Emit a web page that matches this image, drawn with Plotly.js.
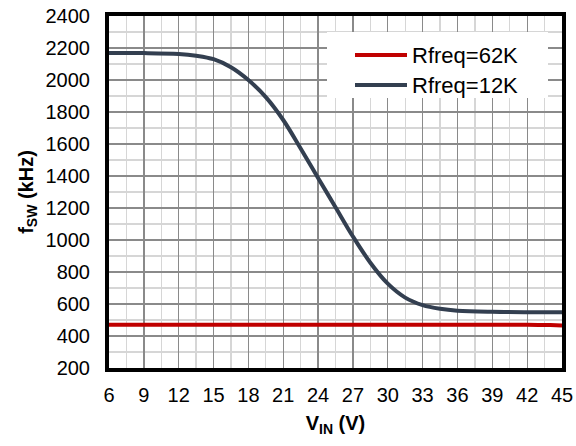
<!DOCTYPE html>
<html>
<head>
<meta charset="utf-8">
<script src="https://cdn.plot.ly/plotly-3.0.1.min.js"></script>
<style>html,body{margin:0;padding:0;background:#fff;}#chart{width:576px;height:446px;}</style>
</head>
<body>
<div id="chart"></div>
<script>
// Data
const seriesNames = ['Rfreq=62K', 'Rfreq=12K'];
const vin12K = [6, 9, 12, 13.5, 15, 16.5, 18, 19.5, 21, 22.5, 24, 25.5, 27, 28.5, 30, 31.5, 33, 34.5, 36, 39, 42, 45];
const fsw12K = [2168, 2168, 2163, 2152, 2130, 2080, 2000, 1893, 1750, 1572, 1388, 1205, 1022, 858, 727, 640, 593, 570, 558, 551, 549, 549];
const vin62K = [6, 9, 12, 15, 18, 21, 24, 27, 30, 33, 36, 39, 42, 44, 45];
const fsw62K = [470, 470, 470, 470, 470, 470, 470, 470, 470, 470, 470, 470, 470, 468, 466];
const xTicks = [6, 9, 12, 15, 18, 21, 24, 27, 30, 33, 36, 39, 42, 45];
const yTicks = [200, 400, 600, 800, 1000, 1200, 1400, 1600, 1800, 2000, 2200, 2400];
const colors = ['#c00000', '#333f50'];

const fam = 'Liberation Sans, Arial, sans-serif';
const font = {family: fam, size: 20, color: '#000'};

const traces = [
  {x: vin62K, y: fsw62K, name: seriesNames[0], mode: 'lines', showlegend: false,
   line: {color: colors[0], width: 4, shape: 'spline', smoothing: 0.6}},
  {x: vin12K, y: fsw12K, name: seriesNames[1], mode: 'lines', showlegend: false,
   line: {color: colors[1], width: 4, shape: 'spline', smoothing: 1}}
];

// legend drawn in paper coordinates (plot area: 453 x 352 px)
const W = 453, H = 352, L = 109, T = 16;
const px = v => (v - L) / W;
const py = v => (T + H - v) / H;
const legRows = [55, 85];
const shapes = [
  {type: 'rect', xref: 'paper', yref: 'paper', x0: px(327), x1: px(548), y0: py(98), y1: py(32),
   fillcolor: '#fff', line: {width: 0}, layer: 'above'}
];
const annotations = [];
seriesNames.forEach((n, i) => {
  shapes.push({type: 'line', xref: 'paper', yref: 'paper', x0: px(355), x1: px(407),
    y0: py(legRows[i]), y1: py(legRows[i]), line: {color: colors[i], width: 4}, layer: 'above'});
  annotations.push({xref: 'paper', yref: 'paper', x: px(410), y: py(legRows[i]), xanchor: 'left', yanchor: 'middle',
    text: n, showarrow: false, font: {family: fam, size: 22, color: '#000'}});
});

const layout = {
  width: 576, height: 446,
  margin: {l: L, r: 576 - L - W, t: T, b: 446 - T - H},
  paper_bgcolor: '#fff', plot_bgcolor: '#fff',
  font: font,
  showlegend: false,
  shapes: shapes,
  annotations: annotations,
  xaxis: {
    range: [6, 45], tickvals: xTicks, ticktext: xTicks.map(String),
    showgrid: true, gridcolor: '#8a8a8a', gridwidth: 1.3,
    minor: {dtick: 1.5, tick0: 6, showgrid: true, gridcolor: '#d6d6d6', gridwidth: 1.3},
    showline: true, linecolor: '#000', linewidth: 4, mirror: true,
    ticks: 'outside', ticklen: 6, tickcolor: 'rgba(0,0,0,0)',
    zeroline: false, tickfont: font,
    title: {text: '<b>V<sub>IN</sub> (V)</b>', font: {family: fam, size: 20, color: '#000'}, standoff: 12}
  },
  yaxis: {
    range: [200, 2400], tickvals: yTicks, ticktext: yTicks.map(String),
    showgrid: true, gridcolor: '#8a8a8a', gridwidth: 1.3,
    minor: {dtick: 100, tick0: 200, showgrid: true, gridcolor: '#d6d6d6', gridwidth: 1.3},
    showline: true, linecolor: '#000', linewidth: 4, mirror: true,
    ticks: 'outside', ticklen: 11, tickcolor: 'rgba(0,0,0,0)',
    zeroline: false, tickfont: font,
    title: {text: '<b>f<sub>SW</sub> (kHz)</b>', font: {family: fam, size: 20, color: '#000'}, standoff: 8}
  }
};

Plotly.newPlot('chart', traces, layout, {displayModeBar: false, staticPlot: true});
</script>
</body>
</html>
